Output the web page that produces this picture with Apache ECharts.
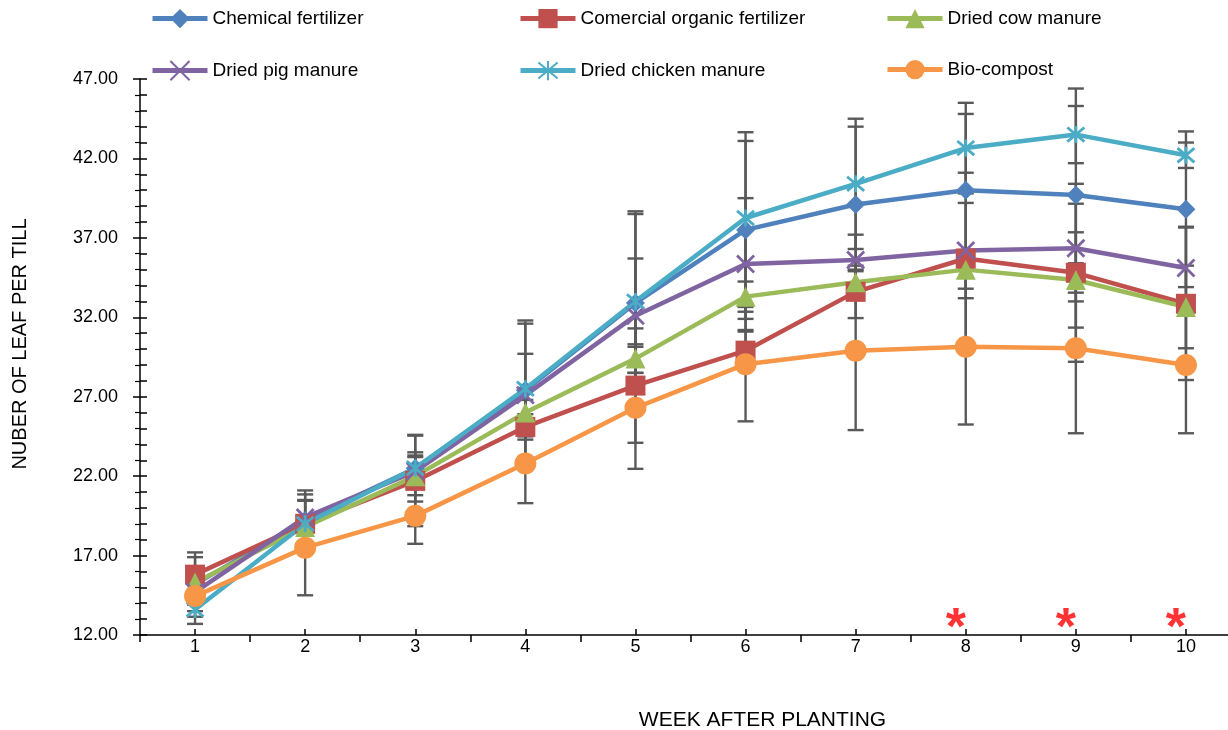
<!DOCTYPE html>
<html><head><meta charset="utf-8">
<script src="https://cdn.jsdelivr.net/npm/echarts@6/dist/echarts.min.js"></script>
<style>html,body{margin:0;padding:0;background:#fff;overflow:hidden}#c{width:1228px;height:730px}</style>
</head><body><div id="c"></div>
<script>
const weeks = ['1','2','3','4','5','6','7','8','9','10'];
const yTicks = [12, 47, 5];
const chemical = [15.2, 19.2, 22.5, 27.4, 32.9, 37.5, 39.1, 40.0, 39.7, 38.8];
const chemicalErr = [1.7, 1.65, 1.0, 4.2, 5.6, 5.6, 4.9, 4.8, 6.7, 4.9];
const commercial = [15.8, 19.0, 21.7, 25.1, 27.7, 29.9, 33.6, 35.7, 34.8, 32.85];
const commercialErr = [1.4, 1.45, 2.85, 0.8, 3.6, 1.2, 1.65, 5.4, 5.6, 4.8];
const cow = [15.3, 18.8, 22.0, 26.0, 29.4, 33.3, 34.2, 35.0, 34.35, 32.65];
const cowErr = [0.8, 0.5, 1.2, 0.8, 0.9, 0.95, 0.8, 1.2, 3.0, 2.6];
const pig = [14.7, 19.4, 22.3, 27.1, 32.1, 35.35, 35.6, 36.2, 36.35, 35.1];
const pigErr = [0.8, 1.7, 1.0, 2.6, 3.6, 4.15, 1.6, 3.0, 2.8, 2.6];
const chicken = [13.6, 19.0, 22.5, 27.5, 33.0, 38.25, 40.4, 42.65, 43.5, 42.2];
const chickenErr = [0.9, 0.5, 2.1, 4.3, 5.67, 5.4, 4.1, 2.85, 1.8, 0.8];
const bio = [14.45, 17.5, 19.5, 22.8, 26.3, 29.05, 29.9, 30.15, 30.05, 29.0];
const bioErr = [1.3, 3.0, 1.76, 2.5, 3.84, 3.6, 5.0, 4.9, 5.35, 4.3];
const signifWeeks = ['8','9','10'];
const signifLevel = 13.0;

const FONT = 'Liberation Sans';
const names = ['Chemical fertilizer','Comercial organic fertilizer','Dried cow manure','Dried pig manure','Dried chicken manure','Bio-compost'];
const colors = ['#4F81BD','#C0504D','#9BBB59','#8064A2','#4BACC6','#F79646'];
const values = [chemical, commercial, cow, pig, chicken, bio];
const errs = [chemicalErr, commercialErr, cowErr, pigErr, chickenErr, bioErr];
const symbols = ['diamond','rect','triangle',
  'path://M0,0 L10,10 M10,0 L0,10',
  'path://M0,0 L10,10 M10,0 L0,10 M5,-1 L5,11',
  'circle'];
const sizes = [19, 20, 20, 17, 17, 22];

const errData = [];
errs.forEach((e, s) => e.forEach((v, i) => errData.push([i, values[s][i] - v, values[s][i] + v])));

const series = [{
  type: 'custom', name: 'err', z: 1, silent: true,
  renderItem: function (params, api) {
    const x = api.value(0);
    const lo = api.coord([x, api.value(1)]);
    const hi = api.coord([x, api.value(2)]);
    const w = 8;
    const st = { stroke: '#595959', lineWidth: 2.4 };
    return { type: 'group', children: [
      { type: 'line', shape: { x1: lo[0], y1: lo[1], x2: hi[0], y2: hi[1] }, style: st },
      { type: 'line', shape: { x1: lo[0] - w, y1: lo[1], x2: lo[0] + w, y2: lo[1] }, style: st },
      { type: 'line', shape: { x1: hi[0] - w, y1: hi[1], x2: hi[0] + w, y2: hi[1] }, style: st }
    ]};
  },
  data: errData
}];
names.forEach((n, s) => series.push({
  type: 'line', name: n, data: values[s], z: 3,
  symbol: symbols[s], symbolSize: sizes[s],
  lineStyle: { color: colors[s], width: 4.5 },
  itemStyle: { color: colors[s], borderColor: colors[s], borderWidth: (s === 3 || s === 4) ? 2.8 : 0 }
}));
series.push({
  type: 'scatter', name: 'sig', z: 4, symbolSize: 1, itemStyle: { color: 'rgba(0,0,0,0)' },
  data: signifWeeks.map(w => [w, signifLevel]),
  label: { show: true, formatter: '*', position: 'inside', color: '#FF0000', fontSize: 52, fontWeight: 'bold', fontFamily: FONT, offset: [-10, 11] }
});

const legendPos = [[150, 9], [518, 9], [885, 9], [150, 60], [518, 60], [885, 60]];
const legends = names.map((n, s) => ({
  data: [n], left: legendPos[s][0], top: legendPos[s][1], itemWidth: 55, itemHeight: 24, itemGap: 0, padding: 0,
  lineStyle: { width: 5 },
  textStyle: { fontSize: 19, fontFamily: FONT, color: '#000' }
}));

const chart = echarts.init(document.getElementById('c'), null, { renderer: 'canvas' });
chart.setOption({
  animation: false,
  backgroundColor: '#fff',
  legend: legends,
  grid: { left: 140, top: 79, width: 1101, height: 556, containLabel: false, outerBoundsMode: 'none' },
  xAxis: [{
    type: 'category', data: weeks, boundaryGap: true,
    name: 'WEEK AFTER PLANTING', nameLocation: 'middle', nameGap: 75,
    nameTextStyle: { fontSize: 21, fontFamily: FONT, color: '#000', padding: [0, 0, 0, 144] },
    axisLine: { lineStyle: { color: '#000', width: 1.5 } },
    axisTick: { show: true, length: 7, lineStyle: { color: '#000', width: 1.5 } },
    axisLabel: { fontSize: 18, fontFamily: FONT, color: '#000', margin: 3 },
    splitLine: { show: false }
  }, {
    type: 'category', data: weeks, boundaryGap: true, position: 'bottom', gridIndex: 0,
    axisLine: { show: false },
    axisTick: { show: true, inside: true, alignWithLabel: true, length: 6, lineStyle: { color: '#000', width: 1.5 } },
    axisLabel: { show: false }, splitLine: { show: false }
  }],
  yAxis: [{
    type: 'value', min: yTicks[0], max: yTicks[1], interval: yTicks[2],
    name: 'NUBER OF LEAF PER TILL', nameLocation: 'middle', nameGap: 110,
    nameTextStyle: { fontSize: 20, fontFamily: FONT, color: '#000', padding: [0, 0, 0, 26] },
    axisLine: { show: true, lineStyle: { color: '#000', width: 1.5 } },
    axisTick: { show: true, length: 7, lineStyle: { color: '#000', width: 1.5 } },
    minorTick: { show: true, splitNumber: 5, length: 5, lineStyle: { color: '#000', width: 1.2 } },
    axisLabel: { fontSize: 18, fontFamily: FONT, color: '#000', margin: 22, formatter: v => v.toFixed(2) },
    splitLine: { show: false }
  }, {
    type: 'value', min: yTicks[0], max: yTicks[1], interval: 1, position: 'left', offset: 0,
    axisLine: { show: false },
    axisTick: { show: true, inside: true, length: 7, lineStyle: { color: '#000', width: 1.5 } },
    axisLabel: { show: false }, splitLine: { show: false }
  }],
  series: series
});
</script></body></html>
